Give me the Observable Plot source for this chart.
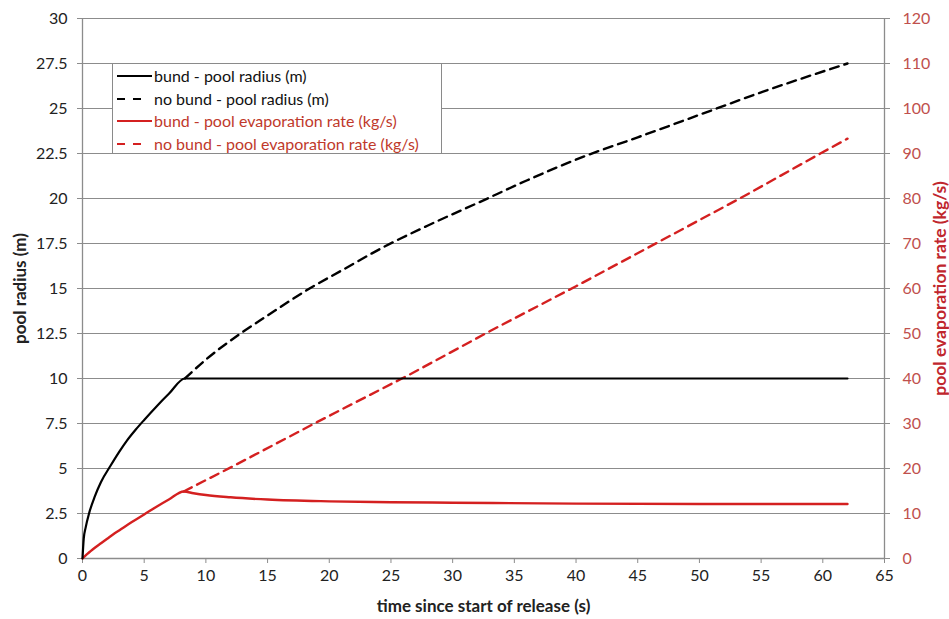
<!DOCTYPE html>
<html><head><meta charset="utf-8">
<script src="https://cdn.jsdelivr.net/npm/d3@7"></script>
<script src="https://cdn.jsdelivr.net/npm/@observablehq/plot@0.6"></script>
<style>
body{margin:0;background:#fff;}
#wrap{position:relative;width:949px;height:619px;font-family:Lato,"Open Sans",sans-serif;}
#legend{position:absolute;left:112px;top:63px;width:330px;height:91px;box-sizing:border-box;border:1px solid #8a8a8a;background:#fff;font-size:16px;padding-top:1px;}
#legend .row{position:relative;height:22.5px;line-height:22.5px;white-space:nowrap;}
#legend svg{position:absolute;left:4px;top:6px;}
#legend span{position:absolute;left:41px;}
</style></head>
<body><div id="wrap"></div>
<script>
// x ticks and axis ticks
const xTicks = [0,5,10,15,20,25,30,35,40,45,50,55,60,65];
const radiusTicks = [0,2.5,5,7.5,10,12.5,15,17.5,20,22.5,25,27.5,30];
const rateTicks = [0,10,20,30,40,50,60,70,80,90,100,110,120];

// bund - pool radius (m)
const bundRadiusT = [0,0.1,0.25,0.55,1,1.5,2.27,3,3.6,4.3,5,6,7,8.3,62];
const bundRadius  = [0,1.1,1.7,2.55,3.45,4.25,5.15,5.95,6.55,7.15,7.7,8.45,9.15,10,10];

// no bund - pool radius (m) (coincides with bund before 8.3 s)
const noBundRadiusT = [8.3,10,12.8,15,18.4,21,24.4,28,32.5,36,40.9,45,51,55,58,62];
const noBundRadius  = [10,11.05,12.5,13.5,15,16.0,17.3,18.5,19.9,21.0,22.4,23.4,24.9,25.9,26.6,27.5];

// bund - pool evaporation rate (kg/s)
const bundRateT = [0,0.3,0.6,1,1.5,2,2.5,3,4,5,6,7,8.2,9,10,12,15,20,25,30,40,50,62];
const bundRate  = [0,0.8,1.5,2.4,3.4,4.4,5.4,6.3,8.1,9.8,11.5,13.1,14.9,14.5,14.1,13.6,13.1,12.7,12.5,12.4,12.2,12.1,12.1];

// no bund - pool evaporation rate (kg/s)
const noBundRateT = [8.2,12.2,19,26.6,33,40,46.8,53.6,59.8,62];
const noBundRate  = [14.9,20.5,30.3,41,50.5,60.5,70.5,80.5,90,93.3];

const legendLabels = ["bund - pool radius (m)","no bund - pool radius (m)","bund - pool evaporation rate (kg/s)","no bund - pool evaporation rate (kg/s)"];
const legendColors = ["#000000","#000000","#d42020","#d42020"];
const legendText = ["#111","#111","#c0392b","#c0392b"];
const legendDashed = [false,true,false,true];

const xLabel = "time since start of release (s)";
const yLeftLabel = "pool radius (m)";
const yRightLabel = "pool evaporation rate (kg/s)";

const RED = "#d42020";
const ratio = 120 / 30; // right axis (kg/s) per left axis unit (m)

const zip = (ts, vs) => ts.map((t, i) => ({t, v: vs[i]}));

const chart = Plot.plot({
  width: 949, height: 619,
  marginLeft: 82, marginRight: 65, marginTop: 18, marginBottom: 61,
  style: {fontFamily: 'Lato, "Open Sans", sans-serif', fontSize: "16px", background: "#fff", color: "#222"},
  x: {domain: [0, 65]},
  y: {domain: [0, 30]},
  marks: [
    Plot.gridY(radiusTicks, {stroke: "#8c8c8c", strokeOpacity: 1, strokeWidth: 1}),
    Plot.ruleX([0, 65], {stroke: "#8c8c8c", strokeWidth: 1.3}),
    Plot.ruleY([0], {stroke: "#8c8c8c", strokeWidth: 1.3}),
    Plot.axisX(xTicks, {tickSize: 5, tickPadding: 6, stroke: "#8c8c8c", fill: "#222", label: null, fontSize: 16}),
    Plot.axisY(radiusTicks, {anchor: "left", tickSize: 5, tickPadding: 10, stroke: "#8c8c8c", fill: "#222", label: null, tickFormat: d => String(d), fontSize: 16}),
    Plot.axisY(rateTicks.map(d => d / ratio), {anchor: "right", tickSize: 5, tickPadding: 13, stroke: "#8c8c8c", fill: "#c0504d", label: null, tickFormat: d => String(Math.round(d * ratio)), fontSize: 16}),
    Plot.line(zip(noBundRateT, noBundRate), {x: "t", y: d => d.v / ratio, stroke: RED, strokeWidth: 2.4, strokeDasharray: "9,6"}),
    Plot.line(zip(bundRateT, bundRate), {x: "t", y: d => d.v / ratio, stroke: RED, strokeWidth: 2.4, curve: "monotone-x"}),
    Plot.line(zip(noBundRadiusT, noBundRadius), {x: "t", y: "v", stroke: "#000", strokeWidth: 2.4, strokeDasharray: "9,6", curve: "monotone-x"}),
    Plot.line(zip(bundRadiusT, bundRadius), {x: "t", y: "v", stroke: "#000", strokeWidth: 2.2, curve: "monotone-x"}),
    Plot.text([xLabel], {text: d => d, frameAnchor: "bottom", dy: 48, fontWeight: "bold", fontSize: 17, fill: "#222", lineAnchor: "middle", textAnchor: "middle"}),
    Plot.text([yLeftLabel], {text: d => d, frameAnchor: "left", dx: -62, rotate: -90, fontWeight: "bold", fontSize: 17, fill: "#222", textAnchor: "middle", lineAnchor: "middle"}),
    Plot.text([yRightLabel], {text: d => d, frameAnchor: "right", dx: 56, rotate: -90, fontWeight: "bold", fontSize: 17.5, fill: "#c0262d", textAnchor: "middle", lineAnchor: "middle"})
  ]
});

const wrap = document.getElementById("wrap");
wrap.appendChild(chart);

const legend = d3.select(wrap).append("div").attr("id", "legend");
legendLabels.forEach((lab, i) => {
  const row = legend.append("div").attr("class", "row");
  const svg = row.append("svg").attr("width", 36).attr("height", 10);
  svg.append("line").attr("x1", 0).attr("x2", legendDashed[i] ? 26 : 35).attr("y1", 5).attr("y2", 5)
    .attr("stroke", legendColors[i]).attr("stroke-width", 2.2)
    .attr("stroke-dasharray", legendDashed[i] ? "8,8" : null);
  row.append("span").style("color", legendText[i]).text(lab);
});
</script>
</body></html>
